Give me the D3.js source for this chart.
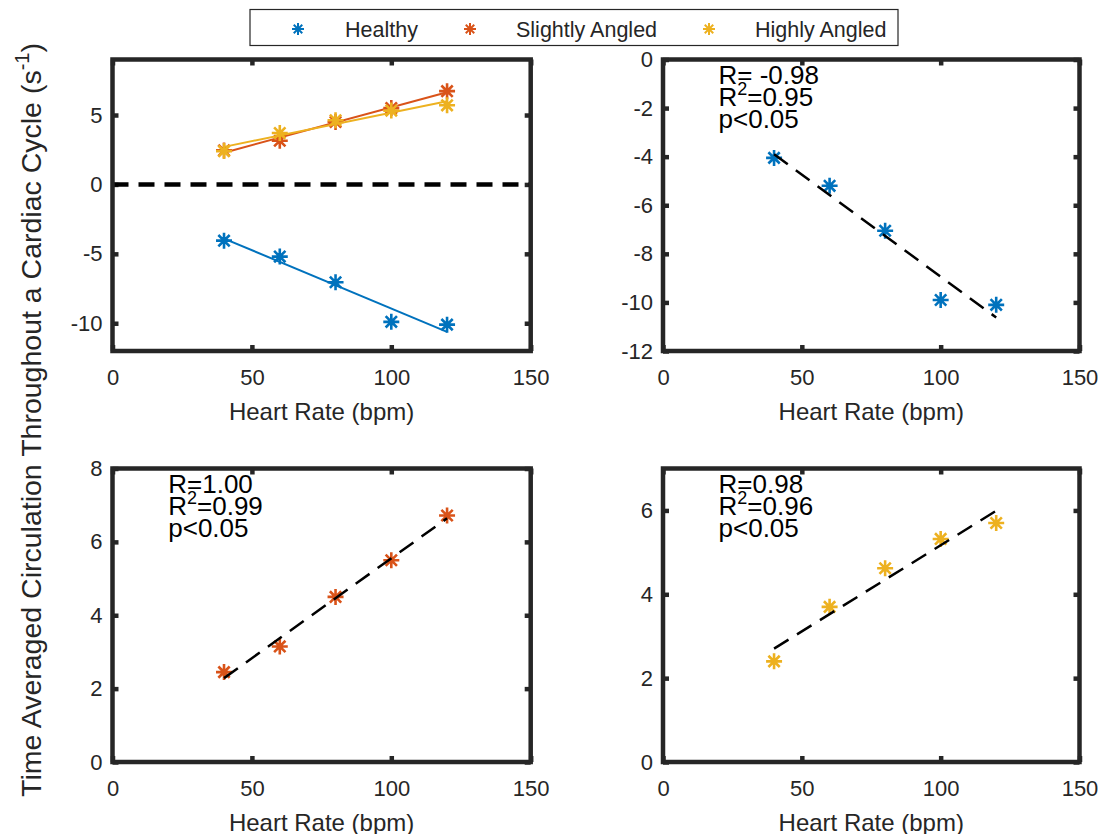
<!DOCTYPE html>
<html>
<head>
<meta charset="utf-8">
<script src="https://cdn.jsdelivr.net/npm/d3@7"></script>
<style>
  body { margin: 0; background: #fff; }
  svg { display: block; }
</style>
</head>
<body>
<svg id="chart" width="1102" height="834"></svg>
<script>
// Heart rate (bpm) at which each condition was measured
const heartRate = [40, 60, 80, 100, 120];

// Time averaged circulation (1/s) for each condition
const healthy        = [-4.05, -5.2, -7.05, -9.9, -10.1];
const slightlyAngled = [2.45, 3.15, 4.5, 5.5, 6.72];
const highlyAngled   = [2.4, 3.7, 4.62, 5.32, 5.7];

const seriesNames  = ["Healthy", "Slightly Angled", "Highly Angled"];
const seriesColors = ["#0072BD", "#D95319", "#EDB120"];

// Axis ticks
const xTicks        = [0, 50, 100, 150];
const yTicksAll     = [-10, -5, 0, 5];
const yTicksHealthy = [-12, -10, -8, -6, -4, -2, 0];
const yTicksSlight  = [0, 2, 4, 6, 8];
const yTicksHigh    = [0, 2, 4, 6];

// Correlation statistics printed in each single-condition panel
const statsHealthy = { r: " -0.98", r2: "0.95", p: "0.05" };
const statsSlight  = { r: "1.00",  r2: "0.99", p: "0.05" };
const statsHigh    = { r: "0.98",  r2: "0.96", p: "0.05" };

const seriesValues = [healthy, slightlyAngled, highlyAngled];

const FONT = '"Liberation Sans", Arial, Helvetica, sans-serif';
const AX = "#262626";
const svg = d3.select("#chart").style("font-family", FONT);

// least-squares line through a series
function linearFit(xs, ys) {
  const mx = d3.mean(xs), my = d3.mean(ys);
  let sxy = 0, sxx = 0;
  xs.forEach((v, i) => { sxy += (v - mx) * (ys[i] - my); sxx += (v - mx) * (v - mx); });
  const slope = sxy / sxx;
  return { slope, intercept: my - slope * mx };
}

// MATLAB style '*' marker: a plus and a cross overlaid
function asterisk(cx, cy, r) {
  let d = "";
  for (let k = 0; k < 4; k++) {
    const a = k * Math.PI / 4, dx = r * Math.cos(a), dy = r * Math.sin(a);
    d += `M${cx - dx},${cy - dy}L${cx + dx},${cy + dy}`;
  }
  return d;
}

const panels = [
  { x0: 112.5, x1: 530.7, y0: 59.5, y1: 351, yDomain: [-12, 9], yTicks: yTicksAll, overview: true },
  { x0: 663, x1: 1079.5, y0: 59.5, y1: 351, yDomain: [-12, 0], yTicks: yTicksHealthy, series: 0, stats: statsHealthy },
  { x0: 112.5, x1: 530.7, y0: 468.5, y1: 762, yDomain: [0, 8], yTicks: yTicksSlight, series: 1, stats: statsSlight },
  { x0: 663, x1: 1079.5, y0: 468.5, y1: 762, yDomain: [0, 7], yTicks: yTicksHigh, series: 2, stats: statsHigh }
];

function styleAxis(sel) {
  sel.select(".domain").remove();
  sel.selectAll(".tick line").attr("stroke", AX).attr("stroke-width", 4.5);
  sel.selectAll(".tick text").attr("fill", AX).style("font-size", "22px").style("font-family", FONT);
}

panels.forEach(p => {
  const x = d3.scaleLinear().domain([0, 150]).range([p.x0, p.x1]);
  const y = d3.scaleLinear().domain(p.yDomain).range([p.y1, p.y0]);
  const g = svg.append("g");
  const fmt = d => String(d);

  // inward ticks on all four sides
  g.append("g").attr("transform", `translate(0,${p.y1})`)
    .call(d3.axisBottom(x).tickValues(xTicks).tickSize(-6).tickPadding(18.5).tickFormat(fmt)).call(styleAxis);
  g.append("g").attr("transform", `translate(0,${p.y0})`)
    .call(d3.axisTop(x).tickValues(xTicks).tickSize(-6).tickFormat("")).call(styleAxis);
  g.append("g").attr("transform", `translate(${p.x0},0)`)
    .call(d3.axisLeft(y).tickValues(p.yTicks).tickSize(-6).tickPadding(10).tickFormat(fmt)).call(styleAxis);
  g.append("g").attr("transform", `translate(${p.x1},0)`)
    .call(d3.axisRight(y).tickValues(p.yTicks).tickSize(-6).tickFormat("")).call(styleAxis);

  // x axis title
  g.append("text")
    .attr("x", (p.x0 + p.x1) / 2).attr("y", p.y1 + 69)
    .attr("text-anchor", "middle").attr("fill", AX).style("font-size", "24px")
    .text("Heart Rate (bpm)");

  const line = d3.line().x(d => x(d[0])).y(d => y(d[1]));
  const xExt = d3.extent(heartRate);

  if (p.overview) {
    // zero reference
    g.append("path")
      .attr("d", line([[0, 0], [150, 0]]))
      .attr("stroke", "#000").attr("stroke-width", 4.5).attr("stroke-dasharray", "16,10").attr("fill", "none");
    seriesValues.forEach((vals, si) => {
      const f = linearFit(heartRate, vals);
      g.append("path")
        .attr("d", line(xExt.map(v => [v, f.intercept + f.slope * v])))
        .attr("stroke", seriesColors[si]).attr("stroke-width", 2).attr("fill", "none");
      g.append("path")
        .attr("d", heartRate.map((hr, i) => asterisk(x(hr), y(vals[i]), 8)).join(""))
        .attr("stroke", seriesColors[si]).attr("stroke-width", 2.6).attr("fill", "none");
    });
  } else {
    const vals = seriesValues[p.series];
    const f = linearFit(heartRate, vals);
    g.append("path")
      .attr("d", heartRate.map((hr, i) => asterisk(x(hr), y(vals[i]), 8)).join(""))
      .attr("stroke", seriesColors[p.series]).attr("stroke-width", 2.6).attr("fill", "none");
    g.append("path")
      .attr("d", line(xExt.map(v => [v, f.intercept + f.slope * v])))
      .attr("stroke", "#000").attr("stroke-width", 2.5).attr("stroke-dasharray", "17,10").attr("fill", "none");

    // statistics block
    const tx = x(20);
    const t = g.append("g").attr("fill", "#000").style("font-size", "26px");
    t.append("text").attr("x", tx).attr("y", p.y0 + 24).text("R=" + p.stats.r);
    const r2 = t.append("text").attr("x", tx).attr("y", p.y0 + 46.5);
    r2.append("tspan").text("R");
    r2.append("tspan").attr("dy", -11).style("font-size", "18px").text("2");
    r2.append("tspan").attr("dy", 11).text("=" + p.stats.r2);
    t.append("text").attr("x", tx).attr("y", p.y0 + 68).text("p<" + p.stats.p);
  }

  // axes box
  g.append("rect")
    .attr("x", p.x0).attr("y", p.y0).attr("width", p.x1 - p.x0).attr("height", p.y1 - p.y0)
    .attr("fill", "none").attr("stroke", AX).attr("stroke-width", 4.5);
});

// shared y axis title
const yTitle = svg.append("text")
  .attr("transform", "translate(41,420) rotate(-90)")
  .attr("text-anchor", "middle").attr("fill", AX).style("font-size", "28.5px");
yTitle.append("tspan").text("Time Averaged Circulation Throughout a Cardiac Cycle (s");
yTitle.append("tspan").attr("dy", -12).style("font-size", "20px").text("-1");
yTitle.append("tspan").attr("dy", 12).text(")");

// legend
const legend = svg.append("g");
legend.append("rect").attr("x", 250).attr("y", 9.5).attr("width", 648).attr("height", 36)
  .attr("fill", "#fff").attr("stroke", AX).attr("stroke-width", 1.2);
const markerX = [298, 470, 709];
const labelX = [345, 516, 755];
seriesNames.forEach((name, i) => {
  legend.append("path").attr("d", asterisk(markerX[i], 29, 6))
    .attr("stroke", seriesColors[i]).attr("stroke-width", 2).attr("fill", "none");
  legend.append("text").attr("x", labelX[i]).attr("y", 37)
    .attr("fill", AX).style("font-size", "21.5px").text(name);
});
</script>
</body>
</html>
